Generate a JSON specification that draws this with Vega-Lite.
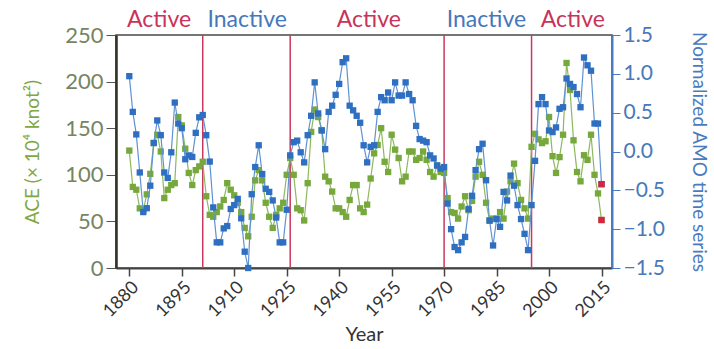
{
  "$schema": "https://vega.github.io/schema/vega-lite/v6.json",
  "width": 496,
  "height": 233,
  "autosize": {"type": "none"},
  "padding": {"left": 116, "top": 35, "right": 102, "bottom": 81},
  "background": "white",
  "config": {
    "font": "Lato",
    "view": {"stroke": "#4a4a4a", "strokeWidth": 1.5}
  },
  "datasets": {
    "series": [
      {"year":1880,"ace":126,"amo":0.97},{"year":1881,"ace":87,"amo":0.51},{"year":1882,"ace":84,"amo":0.22},{"year":1883,"ace":64,"amo":-0.27},{"year":1884,"ace":62,"amo":-0.78},
      {"year":1885,"ace":79,"amo":-0.73},{"year":1886,"ace":101,"amo":-0.44},{"year":1887,"ace":134,"amo":0.11},{"year":1888,"ace":143,"amo":0.40},{"year":1889,"ace":125,"amo":0.21},
      {"year":1890,"ace":75,"amo":-0.27},{"year":1891,"ace":84,"amo":-0.34},{"year":1892,"ace":89,"amo":-0.01},{"year":1893,"ace":91,"amo":0.63},{"year":1894,"ace":162,"amo":0.36},
      {"year":1895,"ace":153,"amo":0.30},{"year":1896,"ace":128,"amo":-0.10},{"year":1897,"ace":102,"amo":-0.05},{"year":1898,"ace":89,"amo":-0.07},{"year":1899,"ace":105,"amo":0.24},
      {"year":1900,"ace":109,"amo":0.44},{"year":1901,"ace":114,"amo":0.47},{"year":1902,"ace":77,"amo":0.21},{"year":1903,"ace":57,"amo":-0.13},{"year":1904,"ace":55,"amo":-0.72},
      {"year":1905,"ace":60,"amo":-1.17},{"year":1906,"ace":66,"amo":-1.17},{"year":1907,"ace":73,"amo":-0.99},{"year":1908,"ace":91,"amo":-0.96},{"year":1909,"ace":84,"amo":-0.74},
      {"year":1910,"ace":78,"amo":-0.69},{"year":1911,"ace":70,"amo":-0.61},{"year":1912,"ace":60,"amo":-0.86},{"year":1913,"ace":43,"amo":-1.29},{"year":1914,"ace":34,"amo":-1.50},
      {"year":1915,"ace":55,"amo":-0.55},{"year":1916,"ace":94,"amo":-0.20},{"year":1917,"ace":105,"amo":0.08},{"year":1918,"ace":94,"amo":-0.29},{"year":1919,"ace":70,"amo":-0.48},
      {"year":1920,"ace":55,"amo":-0.52},{"year":1921,"ace":43,"amo":-0.63},{"year":1922,"ace":57,"amo":-0.85},{"year":1923,"ace":64,"amo":-1.17},{"year":1924,"ace":70,"amo":-1.17},
      {"year":1925,"ace":100,"amo":-0.75},{"year":1926,"ace":118,"amo":-0.05},{"year":1927,"ace":100,"amo":0.12},{"year":1928,"ace":64,"amo":0.14},{"year":1929,"ace":62,"amo":-0.01},
      {"year":1930,"ace":51,"amo":-0.14},{"year":1931,"ace":91,"amo":0.21},{"year":1932,"ace":146,"amo":0.46},{"year":1933,"ace":170,"amo":0.89},{"year":1934,"ace":162,"amo":0.49},
      {"year":1935,"ace":148,"amo":0.27},{"year":1936,"ace":98,"amo":0.03},{"year":1937,"ace":93,"amo":0.51},{"year":1938,"ace":82,"amo":0.59},{"year":1939,"ace":64,"amo":0.73},
      {"year":1940,"ace":64,"amo":0.87},{"year":1941,"ace":60,"amo":1.15},{"year":1942,"ace":55,"amo":1.20},{"year":1943,"ace":73,"amo":0.59},{"year":1944,"ace":89,"amo":0.53},
      {"year":1945,"ace":89,"amo":0.46},{"year":1946,"ace":64,"amo":0.37},{"year":1947,"ace":60,"amo":0.08},{"year":1948,"ace":68,"amo":-0.14},{"year":1949,"ace":96,"amo":0.06},
      {"year":1950,"ace":123,"amo":0.08},{"year":1951,"ace":132,"amo":0.51},{"year":1952,"ace":150,"amo":0.70},{"year":1953,"ace":114,"amo":0.66},{"year":1954,"ace":103,"amo":0.76},
      {"year":1955,"ace":143,"amo":0.66},{"year":1956,"ace":127,"amo":0.89},{"year":1957,"ace":118,"amo":0.72},{"year":1958,"ace":93,"amo":0.72},{"year":1959,"ace":98,"amo":0.89},
      {"year":1960,"ace":125,"amo":0.74},{"year":1961,"ace":125,"amo":0.66},{"year":1962,"ace":116,"amo":0.33},{"year":1963,"ace":118,"amo":0.16},{"year":1964,"ace":125,"amo":0.14},
      {"year":1965,"ace":116,"amo":0.12},{"year":1966,"ace":103,"amo":-0.05},{"year":1967,"ace":98,"amo":-0.09},{"year":1968,"ace":110,"amo":-0.18},{"year":1969,"ace":103,"amo":-0.22},
      {"year":1970,"ace":102,"amo":-0.20},{"year":1971,"ace":75,"amo":-0.67},{"year":1972,"ace":60,"amo":-1.00},{"year":1973,"ace":59,"amo":-1.23},{"year":1974,"ace":53,"amo":-1.27},
      {"year":1975,"ace":66,"amo":-1.17},{"year":1976,"ace":77,"amo":-1.10},{"year":1977,"ace":62,"amo":-0.74},{"year":1978,"ace":72,"amo":-0.57},{"year":1979,"ace":98,"amo":-0.24},
      {"year":1980,"ace":114,"amo":0.03},{"year":1981,"ace":100,"amo":0.10},{"year":1982,"ace":70,"amo":-0.37},{"year":1983,"ace":51,"amo":-0.89},{"year":1984,"ace":53,"amo":-1.21},
      {"year":1985,"ace":53,"amo":-0.87},{"year":1986,"ace":60,"amo":-0.97},{"year":1987,"ace":53,"amo":-0.52},{"year":1988,"ace":82,"amo":-0.63},{"year":1989,"ace":93,"amo":-0.31},
      {"year":1990,"ace":112,"amo":-0.44},{"year":1991,"ace":91,"amo":-0.69},{"year":1992,"ace":73,"amo":-0.87},{"year":1993,"ace":64,"amo":-1.06},{"year":1994,"ace":53,"amo":-1.27},
      {"year":1995,"ace":130,"amo":-0.69},{"year":1996,"ace":144,"amo":-0.12},{"year":1997,"ace":138,"amo":0.61},{"year":1998,"ace":134,"amo":0.70},{"year":1999,"ace":136,"amo":0.61},
      {"year":2000,"ace":162,"amo":0.27},{"year":2001,"ace":120,"amo":0.25},{"year":2002,"ace":102,"amo":0.31},{"year":2003,"ace":119,"amo":0.55},{"year":2004,"ace":143,"amo":0.57},
      {"year":2005,"ace":220,"amo":0.94},{"year":2006,"ace":191,"amo":0.87},{"year":2007,"ace":137,"amo":0.83},{"year":2008,"ace":103,"amo":0.74},{"year":2009,"ace":93,"amo":0.57},
      {"year":2010,"ace":121,"amo":1.21},{"year":2011,"ace":116,"amo":1.11},{"year":2012,"ace":143,"amo":1.04},{"year":2013,"ace":100,"amo":0.36},{"year":2014,"ace":80,"amo":0.36},
      {"year":2015,"ace":51.5,"amo":-0.42}
    ],
    "bounds": [{"year":1901},{"year":1926},{"year":1970},{"year":1995}],
    "phases": [
      {"year":1888.5,"phase":"Active"},
      {"year":1913.7,"phase":"Inactive"},
      {"year":1948.5,"phase":"Active"},
      {"year":1982.1,"phase":"Inactive"},
      {"year":2006.8,"phase":"Active"}
    ]
  },
  "encoding": {
    "x": {
      "field": "year",
      "type": "quantitative",
      "scale": {"domain": [1876.2, 2018], "nice": false, "zero": false},
      "axis": {
        "values": [1880,1895,1910,1925,1940,1955,1970,1985,2000,2015],
        "format": "d",
        "labelAngle": -45,
        "labelFontSize": 18,
        "labelColor": "#333333",
        "labelPadding": 2,
        "tickSize": 8,
        "tickWidth": 1.5,
        "tickColor": "#444444",
        "domainColor": "#444444",
        "domainWidth": 2,
        "grid": false,
        "title": "Year",
        "titleFontSize": 20,
        "titleFontWeight": "normal",
        "titleColor": "#333333",
        "titlePadding": 4
      }
    }
  },
  "layer": [
    {
      "data": {"name": "bounds"},
      "mark": {"type": "rule", "color": "#c9385e", "strokeWidth": 1.5},
      "encoding": {}
    },
    {
      "data": {"name": "series"},
      "mark": {"type": "line", "color": "#8cb85e", "strokeWidth": 1.2,
               "point": {"shape": "square", "size": 40, "filled": true, "color": "#76a83c", "opacity": 1}},
      "encoding": {
        "y": {
          "field": "ace", "type": "quantitative",
          "scale": {"domain": [0, 250], "nice": false, "zero": false},
          "axis": {
            "orient": "left",
            "values": [0,50,100,150,200,250],
            "title": "ACE (× 10⁴ knot²)",
            "titleColor": "#7fa845",
            "titleFontSize": 19,
            "titleFontWeight": "normal",
            "titlePadding": 22,
            "labelColor": "#77845f",
            "labelFontSize": 22,
            "labelPadding": 3,
            "tickSize": 10,
            "tickColor": "#555555",
            "domainColor": "#2e3524",
            "domainWidth": 2.5,
            "grid": false
          }
        }
      }
    },
    {
      "data": {"name": "series"},
      "mark": {"type": "line", "color": "#5f92d2", "strokeWidth": 1.2,
               "point": {"shape": "square", "size": 40, "filled": true, "color": "#2f6fc2", "opacity": 1}},
      "encoding": {
        "y": {
          "field": "amo", "type": "quantitative",
          "scale": {"domain": [-1.5, 1.5], "nice": false, "zero": false},
          "axis": {
            "orient": "right",
            "values": [-1.5,-1,-0.5,0,0.5,1,1.5],
            "format": ".1f",
            "title": "Normalized AMO time series",
            "titleColor": "#4a7bc0",
            "titleFontSize": 19,
            "titleFontWeight": "normal",
            "titlePadding": 24,
            "labelColor": "#4a78b8",
            "labelFontSize": 21,
            "labelPadding": 3,
            "tickSize": 8,
            "tickColor": "#4a7bc0",
            "domainColor": "#4a7bc0",
            "domainWidth": 2,
            "grid": false
          }
        }
      }
    },
    {
      "data": {"name": "series"},
      "transform": [{"filter": "datum.year == 2015"}],
      "mark": {"type": "square", "size": 40, "color": "#d8243f", "opacity": 1},
      "encoding": {
        "y": {"field": "ace", "type": "quantitative", "scale": {"domain": [0, 250], "nice": false, "zero": false}, "axis": null}
      }
    },
    {
      "data": {"name": "series"},
      "transform": [{"filter": "datum.year == 2015"}],
      "mark": {"type": "square", "size": 40, "color": "#d8243f", "opacity": 1},
      "encoding": {
        "y": {"field": "amo", "type": "quantitative", "scale": {"domain": [-1.5, 1.5], "nice": false, "zero": false}, "axis": null}
      }
    },
    {
      "data": {"name": "phases"},
      "mark": {"type": "text", "fontSize": 23, "align": "center", "baseline": "middle"},
      "encoding": {
        "text": {"field": "phase"},
        "y": {"datum": 266, "type": "quantitative", "scale": {"domain": [0, 250], "nice": false, "zero": false}, "axis": null},
        "color": {"field": "phase", "type": "nominal", "scale": {"domain": ["Active", "Inactive"], "range": ["#c9335a", "#4677bb"]}, "legend": null}
      }
    }
  ],
  "resolve": {"scale": {"y": "independent"}, "axis": {"y": "independent"}}
}
